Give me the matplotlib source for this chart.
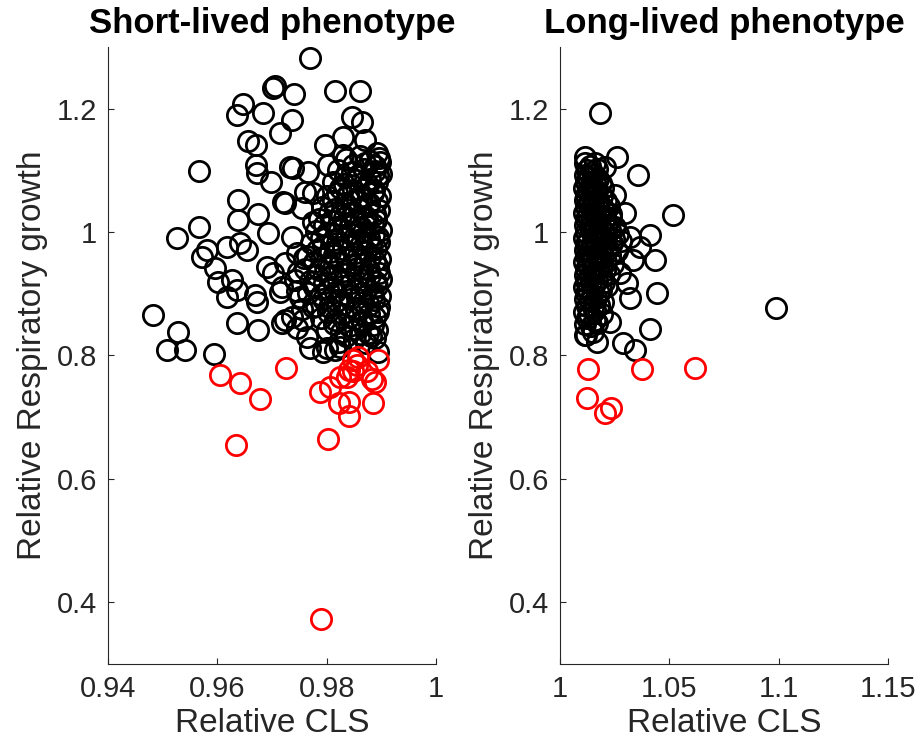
import matplotlib
matplotlib.use('Agg')
import matplotlib.pyplot as plt
from matplotlib.ticker import FuncFormatter

plt.rcParams['font.family'] = ['Liberation Sans', 'DejaVu Sans']

# ---- short-lived panel ----
# scattered black points
short_black_x = [0.9770, 0.9706, 0.9702, 0.9741, 0.9816, 0.9861, 0.9647, 0.9636, 0.9684, 0.9737,
                 0.9847, 0.9865, 0.9715, 0.9656, 0.9671, 0.9797, 0.9830, 0.9870, 0.9892, 0.9898,
                 0.9830, 0.9671, 0.9672, 0.9698, 0.9733, 0.9738, 0.9766, 0.9803, 0.9566, 0.9775,
                 0.9760, 0.9819, 0.9724, 0.9755, 0.9720, 0.9638, 0.9675, 0.9638, 0.9775, 0.9566,
                 0.9526, 0.9693, 0.9737, 0.9642, 0.9581, 0.9572, 0.9618, 0.9654, 0.9596, 0.9627,
                 0.9601, 0.9618, 0.9669, 0.9672, 0.9636, 0.9690, 0.9702, 0.9718, 0.9715, 0.9724,
                 0.9745, 0.9482, 0.9528, 0.9508, 0.9541, 0.9594, 0.9636, 0.9675, 0.9718, 0.9737,
                 0.9742, 0.9724, 0.9770, 0.9794, 0.9816, 0.9757, 0.9775, 0.9751, 0.9825, 0.9894,
                 0.9801]
short_black_y = [1.283, 1.237, 1.234, 1.224, 1.229, 1.229, 1.208, 1.190, 1.193, 1.182,
                 1.187, 1.179, 1.161, 1.148, 1.142, 1.141, 1.154, 1.150, 1.129, 1.114,
                 1.125, 1.109, 1.096, 1.082, 1.106, 1.104, 1.098, 1.109, 1.099, 1.064,
                 1.065, 1.064, 1.048, 1.039, 1.049, 1.052, 1.030, 1.020, 1.017, 1.009,
                 0.990, 0.999, 0.992, 0.982, 0.971, 0.960, 0.976, 0.971, 0.942, 0.923,
                 0.919, 0.895, 0.898, 0.887, 0.906, 0.944, 0.934, 0.911, 0.903, 0.950,
                 0.966, 0.866, 0.838, 0.809, 0.809, 0.802, 0.853, 0.842, 0.853, 0.863,
                 0.923, 0.858, 0.812, 0.806, 0.809, 0.858, 0.879, 0.895, 0.814, 0.806,
                 0.812]

# dense cloud near x ~ 0.98-0.99
short_dense_x = [0.9836, 0.9861, 0.9879, 0.9896,
                 0.9821, 0.9846, 0.9869, 0.9889, 0.9899,
                 0.9811, 0.9831, 0.9854, 0.9876, 0.9893,
                 0.9801, 0.9839, 0.9863, 0.9884, 0.9897,
                 0.9791, 0.9816, 0.9837, 0.9859, 0.9878, 0.9895,
                 0.9786, 0.9808, 0.9831, 0.9851, 0.9873, 0.9890,
                 0.9780, 0.9801, 0.9823, 0.9845, 0.9866, 0.9886, 0.9899,
                 0.9771, 0.9794, 0.9818, 0.9841, 0.9862, 0.9882, 0.9896,
                 0.9764, 0.9790, 0.9813, 0.9835, 0.9858, 0.9880, 0.9897,
                 0.9761, 0.9786, 0.9807, 0.9832, 0.9856, 0.9877, 0.9894,
                 0.9769, 0.9796, 0.9821, 0.9845, 0.9868, 0.9890, 0.9899,
                 0.9765, 0.9789, 0.9815, 0.9841, 0.9862, 0.9885, 0.9898,
                 0.9781, 0.9804, 0.9830, 0.9854, 0.9878, 0.9895,
                 0.9790, 0.9815, 0.9841, 0.9865, 0.9888,
                 0.9800, 0.9827, 0.9852, 0.9876, 0.9893,
                 0.9822, 0.9850, 0.9872, 0.9889,
                 0.9748, 0.9758, 0.9745, 0.9755, 0.9746, 0.9764,
                 # second, offset layer filling the core
                 0.9848, 0.9870, 0.9888,
                 0.9834, 0.9858, 0.9880, 0.9894,
                 0.9825, 0.9848, 0.9870, 0.9887,
                 0.9812, 0.9834, 0.9856, 0.9877, 0.9892,
                 0.9805, 0.9827, 0.9849, 0.9871, 0.9889,
                 0.9796, 0.9819, 0.9842, 0.9863, 0.9884,
                 0.9790, 0.9812, 0.9835, 0.9857, 0.9878, 0.9894,
                 0.9782, 0.9806, 0.9829, 0.9851, 0.9872, 0.9891,
                 0.9777, 0.9802, 0.9825, 0.9847, 0.9869, 0.9889,
                 0.9782, 0.9808, 0.9833, 0.9857, 0.9879, 0.9895,
                 0.9777, 0.9803, 0.9828, 0.9851, 0.9874, 0.9892,
                 0.9793, 0.9818, 0.9843, 0.9866, 0.9887,
                 0.9803, 0.9829, 0.9853, 0.9877, 0.9894,
                 0.9814, 0.9840, 0.9864, 0.9884,
                 0.9836, 0.9861, 0.9882]
short_dense_y = [1.118, 1.123, 1.116, 1.121,
                 1.101, 1.097, 1.103, 1.099, 1.094,
                 1.082, 1.078, 1.084, 1.077, 1.081,
                 1.058, 1.062, 1.056, 1.063, 1.059,
                 1.041, 1.037, 1.043, 1.038, 1.042, 1.036,
                 1.021, 1.018, 1.023, 1.017, 1.022, 1.019,
                 1.002, 0.998, 1.003, 0.997, 1.001, 0.996, 1.004,
                 0.982, 0.978, 0.983, 0.977, 0.981, 0.979, 0.984,
                 0.961, 0.958, 0.963, 0.957, 0.962, 0.959, 0.956,
                 0.941, 0.938, 0.943, 0.937, 0.942, 0.939, 0.944,
                 0.921, 0.918, 0.923, 0.917, 0.922, 0.919, 0.924,
                 0.901, 0.898, 0.903, 0.897, 0.902, 0.899, 0.896,
                 0.881, 0.878, 0.883, 0.877, 0.882, 0.879,
                 0.861, 0.858, 0.863, 0.857, 0.862,
                 0.842, 0.838, 0.843, 0.837, 0.841,
                 0.822, 0.826, 0.821, 0.828,
                 0.935, 0.958, 0.905, 0.875, 0.845, 0.830,
                 1.109, 1.112, 1.107,
                 1.089, 1.091, 1.087, 1.092,
                 1.071, 1.068, 1.072, 1.069,
                 1.050, 1.048, 1.052, 1.047, 1.051,
                 1.031, 1.028, 1.032, 1.027, 1.030,
                 1.011, 1.008, 1.012, 1.009, 1.013,
                 0.991, 0.988, 0.992, 0.987, 0.990, 0.993,
                 0.971, 0.968, 0.972, 0.967, 0.970, 0.973,
                 0.951, 0.948, 0.952, 0.947, 0.950, 0.953,
                 0.931, 0.928, 0.932, 0.927, 0.930, 0.933,
                 0.911, 0.908, 0.912, 0.907, 0.910, 0.913,
                 0.891, 0.888, 0.892, 0.887, 0.890,
                 0.871, 0.868, 0.872, 0.867, 0.870,
                 0.851, 0.848, 0.852, 0.849,
                 0.832, 0.834, 0.831]

short_red_x = [0.9605, 0.9642, 0.9677, 0.9726, 0.9634, 0.9803, 0.9790, 0.9788, 0.9806, 0.9825,
               0.9823, 0.9840, 0.9840, 0.9885, 0.9889, 0.9883, 0.9894, 0.9849, 0.9858, 0.9840,
               0.9849, 0.9856, 0.9874, 0.9838]
short_red_y = [0.769, 0.756, 0.730, 0.780, 0.655, 0.665, 0.372, 0.741, 0.749, 0.765,
               0.723, 0.725, 0.702, 0.723, 0.757, 0.761, 0.793, 0.793, 0.798, 0.777,
               0.774, 0.785, 0.774, 0.765]

# ---- long-lived panel ----
long_black_x = [1.0183, 1.0114, 1.0260, 1.0206, 1.0356, 1.0516, 1.0251, 1.0297, 1.0411, 1.0434,
                1.0365, 1.0320, 1.0443, 1.0411, 1.0343, 1.0288, 1.0320, 1.0169, 1.0114, 1.0228,
                1.0274, 1.0306, 1.0334, 1.0987]
long_black_y = [1.193, 1.122, 1.122, 1.106, 1.093, 1.028, 1.060, 1.031, 0.996, 0.955,
                0.976, 0.992, 0.902, 0.843, 0.809, 0.820, 0.893, 0.822, 0.833, 0.854,
                0.934, 0.918, 0.955, 0.877]

long_dense_x = [1.0115, 1.0135, 1.0160,
                1.0112, 1.0130, 1.0150, 1.0175,
                1.0110, 1.0128, 1.0148, 1.0170, 1.0195,
                1.0112, 1.0132, 1.0155, 1.0180, 1.0210,
                1.0110, 1.0130, 1.0152, 1.0178, 1.0205, 1.0235,
                1.0113, 1.0135, 1.0160, 1.0185, 1.0215, 1.0250,
                1.0110, 1.0130, 1.0155, 1.0182, 1.0212, 1.0245, 1.0280,
                1.0112, 1.0133, 1.0158, 1.0188, 1.0220, 1.0260,
                1.0110, 1.0130, 1.0152, 1.0180, 1.0210, 1.0240,
                1.0112, 1.0135, 1.0160, 1.0190, 1.0225,
                1.0110, 1.0130, 1.0155, 1.0185, 1.0215,
                1.0112, 1.0135, 1.0165, 1.0195,
                1.0110, 1.0132, 1.0158, 1.0190,
                1.0115, 1.0140, 1.0170,
                1.0120, 1.0150,
                # offset layer
                1.0122, 1.0145, 1.0170,
                1.0120, 1.0140, 1.0162, 1.0188,
                1.0118, 1.0140, 1.0165, 1.0192,
                1.0120, 1.0142, 1.0168, 1.0196, 1.0225,
                1.0118, 1.0142, 1.0170, 1.0200, 1.0232,
                1.0120, 1.0145, 1.0172, 1.0200, 1.0230, 1.0265,
                1.0118, 1.0143, 1.0170, 1.0200, 1.0238,
                1.0120, 1.0142, 1.0168, 1.0196, 1.0228,
                1.0118, 1.0145, 1.0175, 1.0205,
                1.0120, 1.0143, 1.0170, 1.0200,
                1.0118, 1.0145, 1.0178,
                1.0122, 1.0150, 1.0180,
                1.0125, 1.0160]
long_dense_y = [1.112, 1.108, 1.113,
                1.092, 1.088, 1.093, 1.087,
                1.071, 1.068, 1.073, 1.067, 1.072,
                1.052, 1.048, 1.053, 1.047, 1.051,
                1.031, 1.028, 1.033, 1.027, 1.032, 1.029,
                1.011, 1.008, 1.013, 1.007, 1.012, 1.009,
                0.991, 0.988, 0.993, 0.987, 0.992, 0.989, 0.986,
                0.971, 0.968, 0.973, 0.967, 0.972, 0.969,
                0.951, 0.948, 0.953, 0.947, 0.952, 0.949,
                0.931, 0.928, 0.933, 0.927, 0.932,
                0.911, 0.908, 0.913, 0.907, 0.912,
                0.891, 0.888, 0.893, 0.887,
                0.871, 0.868, 0.873, 0.867,
                0.851, 0.848, 0.853,
                0.833, 0.838,
                1.101, 1.098, 1.102,
                1.081, 1.078, 1.082, 1.079,
                1.061, 1.058, 1.062, 1.059,
                1.041, 1.038, 1.042, 1.039, 1.043,
                1.021, 1.018, 1.022, 1.019, 1.023,
                1.001, 0.998, 1.002, 0.999, 1.003, 0.997,
                0.981, 0.978, 0.982, 0.979, 0.983,
                0.961, 0.958, 0.962, 0.959, 0.963,
                0.941, 0.938, 0.942, 0.939,
                0.921, 0.918, 0.922, 0.919,
                0.901, 0.898, 0.902,
                0.881, 0.878, 0.882,
                0.861, 0.858]

long_red_x = [1.0128, 1.0375, 1.0617, 1.0123, 1.0233, 1.0206]
long_red_y = [0.778, 0.778, 0.780, 0.731, 0.715, 0.707]

y_ticks = [0.4, 0.6, 0.8, 1.0, 1.2]
short_xticks = [0.94, 0.96, 0.98, 1.0]
long_xticks = [1.0, 1.05, 1.1, 1.15]

fig = plt.figure(figsize=(9.19, 7.53), dpi=100)
ax1 = fig.add_axes([0.1178, 0.1187, 0.3565, 0.8185])
ax2 = fig.add_axes([0.6094, 0.1187, 0.3572, 0.8185])

gray = '#262626'
mk = dict(linestyle='none', marker='o', markerfacecolor='none', markersize=14.6, markeredgewidth=2.0)
fmt = FuncFormatter(lambda v, p: '%g' % round(v, 4))

panels = [
    (ax1, short_black_x + short_dense_x, short_black_y + short_dense_y, short_red_x, short_red_y,
     short_xticks, (0.94, 1.0), 'Short-lived phenotype'),
    (ax2, long_black_x + long_dense_x, long_black_y + long_dense_y, long_red_x, long_red_y,
     long_xticks, (1.0, 1.15), 'Long-lived phenotype'),
]

for ax, bx, by, rx, ry, xt, xl, title in panels:
    ax.plot(bx, by, color='black', **mk)
    ax.plot(rx, ry, color='red', **mk)
    ax.set_xlim(*xl)
    ax.set_ylim(0.3, 1.3)
    ax.set_xticks(xt)
    ax.set_yticks(y_ticks)
    ax.xaxis.set_major_formatter(fmt)
    ax.yaxis.set_major_formatter(fmt)
    for s in ['top', 'right']:
        ax.spines[s].set_visible(False)
    for s in ['left', 'bottom']:
        ax.spines[s].set_color(gray)
        ax.spines[s].set_linewidth(0.8)
    ax.tick_params(direction='in', length=4, width=0.8, colors=gray, labelsize=21, pad=8)
    ax.set_xlabel('Relative CLS', fontsize=24, color=gray, labelpad=4)
    ax.set_ylabel('Relative Respiratory growth', fontsize=24, color=gray, labelpad=6)
    ax.set_title(title, fontsize=25, fontweight='bold', pad=10)

fig.savefig('out.png', dpi=100)
